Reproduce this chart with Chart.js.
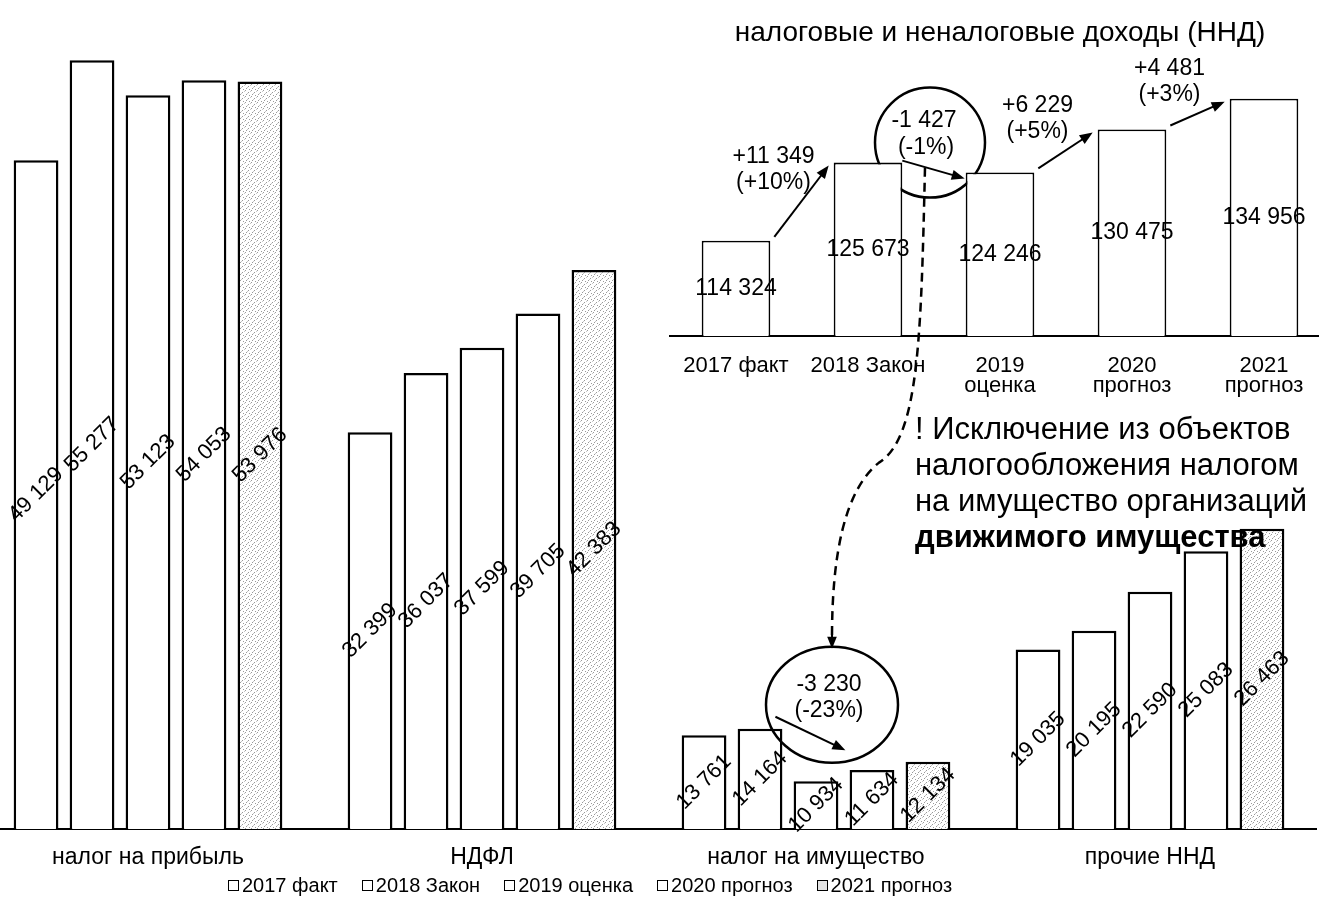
<!DOCTYPE html>
<html>
<head>
<meta charset="utf-8">
<script src="https://cdn.jsdelivr.net/npm/chart.js@4.4.1/dist/chart.umd.min.js"></script>
<style>
  html, body { margin:0; padding:0; background:#fff; width:1319px; height:912px; overflow:hidden; position:relative; }
  #main { position:absolute; left:-19px; top:0; }
  #inset { position:absolute; left:0; top:0; }
  #note { position:absolute; left:915px; top:411px; font-family:'Liberation Sans', Arial, sans-serif; font-size:31px; line-height:36px; color:#000; white-space:nowrap; }
  #legend { position:absolute; left:228px; top:874px; display:flex; gap:24px; font-family:'Liberation Sans', Arial, sans-serif; font-size:20px; color:#000; white-space:nowrap; }
  #legend span.item { display:flex; align-items:center; }
  #legend span.box { display:inline-block; width:9px; height:9px; border:1px solid #000; margin-right:3px; background:#fff; }
</style>
</head>
<body>
<canvas id="main" width="1336" height="880"></canvas>
<canvas id="inset" width="1330" height="912"></canvas>
<div id="note">! Исключение из объектов<br>налогообложения налогом<br>на имущество организаций<br><b>движимого имущества</b></div>
<div id="legend"></div>
<script>
// ---------- DATA ----------
const categories = ['налог на прибыль', 'НДФЛ', 'налог на имущество', 'прочие ННД'];
const seriesNames = ['2017 факт', '2018 Закон', '2019 оценка', '2020 прогноз', '2021 прогноз'];
const values2017 = [49129, 32399, 13761, 19035];
const values2018 = [55277, 36037, 14164, 20195];
const values2019 = [53123, 37599, 10934, 22590];
const values2020 = [54053, 39705, 11634, 25083];
const values2021 = [53976, 42383, 12134, 26463];
const insetTitle = 'налоговые и неналоговые доходы (ННД)';
const insetLabels = ['2017 факт', '2018 Закон', ['2019', 'оценка'], ['2020', 'прогноз'], ['2021', 'прогноз']];
const insetValues = [114324, 125673, 124246, 130475, 134956];
// ---------------------------

const FONT = "'Liberation Sans', Arial, sans-serif";
const MAIN_LEFT = -19; // css offset of main canvas
const seriesValues = [values2017, values2018, values2019, values2020, values2021];

function fmt(v) { return String(Math.abs(v)).replace(/\B(?=(\d{3})+(?!\d))/g, ' '); }
function fmtSigned(v) { return (v >= 0 ? '+' : '-') + fmt(v); }
function pctSigned(d, base) { const p = Math.round(d / base * 100); return '(' + (p >= 0 ? '+' : '') + p + '%)'; }

function makePattern() {
  const c = document.createElement('canvas');
  c.width = 6; c.height = 6;
  const g = c.getContext('2d');
  g.fillStyle = '#ffffff'; g.fillRect(0, 0, 6, 6);
  g.fillStyle = '#9a9a9a';
  g.fillRect(0, 0, 1, 1); g.fillRect(3, 2, 1, 1); g.fillRect(1, 4, 1, 1); g.fillRect(4, 5, 1, 1);
  g.fillStyle = '#c8c8c8';
  g.fillRect(5, 1, 1, 1); g.fillRect(2, 3, 1, 1);
  return document.getElementById('main').getContext('2d').createPattern(c, 'repeat');
}
const stipple = makePattern();

function arrow(ctx, x1, y1, x2, y2, head, lw) {
  const a = Math.atan2(y2 - y1, x2 - x1);
  ctx.save();
  ctx.strokeStyle = '#000'; ctx.fillStyle = '#000'; ctx.lineWidth = lw; ctx.setLineDash([]);
  ctx.beginPath();
  ctx.moveTo(x1, y1);
  ctx.lineTo(x2 - Math.cos(a) * head * 0.8, y2 - Math.sin(a) * head * 0.8);
  ctx.stroke();
  ctx.beginPath();
  ctx.moveTo(x2, y2);
  ctx.lineTo(x2 - head * Math.cos(a - 0.38), y2 - head * Math.sin(a - 0.38));
  ctx.lineTo(x2 - head * Math.cos(a + 0.38), y2 - head * Math.sin(a + 0.38));
  ctx.closePath(); ctx.fill();
  ctx.restore();
}

const legendEl = document.getElementById('legend');
seriesNames.forEach((n, i) => {
  const it = document.createElement('span'); it.className = 'item';
  const b = document.createElement('span'); b.className = 'box';
  if (i === 4) b.style.background = '#e4e4e4';
  it.appendChild(b);
  it.appendChild(document.createTextNode(n));
  legendEl.appendChild(it);
});

// ---------- main chart ----------
const PROP = 2;
let propCircle = null;

const mainPlugin = {
  id: 'mainAnn',
  afterDatasetsDraw(chart) {
    const ctx = chart.ctx;
    const bottom = chart.chartArea.bottom;
    const b2 = chart.getDatasetMeta(1).data[PROP];
    const b3 = chart.getDatasetMeta(2).data[PROP];
    const cx = b3.x + 16, cy = b2.y - 24, rx = 66, ry = 58;
    propCircle = { x: cx + MAIN_LEFT, y: cy, rx: rx, ry: ry };
    ctx.save();
    ctx.strokeStyle = '#000'; ctx.lineWidth = 2.5;
    ctx.beginPath(); ctx.ellipse(cx, cy, rx, ry, 0, 0, Math.PI * 2); ctx.stroke();
    const d = values2019[PROP] - values2018[PROP];
    ctx.fillStyle = '#000'; ctx.font = '23px ' + FONT; ctx.textAlign = 'center'; ctx.textBaseline = 'middle';
    ctx.fillText(fmtSigned(d), cx - 3, cy - 20);
    ctx.fillText(pctSigned(d, values2018[PROP]), cx - 3, cy + 6);
    ctx.restore();
    arrow(ctx, b2.x + b2.width / 2 - 7, b2.y - 12, b3.x + b3.width / 2 + 7, b3.y - 31, 14, 2);

    ctx.save();
    ctx.fillStyle = '#000'; ctx.font = '22px ' + FONT; ctx.textAlign = 'center'; ctx.textBaseline = 'middle';
    chart.data.datasets.forEach((ds, di) => {
      chart.getDatasetMeta(di).data.forEach((el, i) => {
        const yc = (el.y + bottom) / 2;
        ctx.save();
        ctx.translate(el.x, yc);
        ctx.rotate(-Math.PI / 4);
        ctx.fillText(fmt(ds.data[i]), 0, 0);
        ctx.restore();
      });
    });
    ctx.restore();
  }
};

const mainChart = new Chart(document.getElementById('main'), {
  type: 'bar',
  data: {
    labels: categories,
    datasets: seriesNames.map((n, i) => ({
      label: n,
      data: seriesValues[i],
      backgroundColor: i === 4 ? stipple : '#ffffff',
      borderColor: '#000',
      borderWidth: 2.5,
      borderSkipped: 'bottom'
    }))
  },
  options: {
    responsive: false, animation: false, events: [],
    devicePixelRatio: 1,
    layout: { padding: { top: 16, left: 0, right: 0, bottom: 0 } },
    datasets: { bar: { categoryPercentage: 0.838, barPercentage: 0.80 } },
    plugins: { legend: { display: false }, tooltip: { enabled: false }, title: { display: false } },
    scales: {
      x: {
        grid: { display: false, drawTicks: false },
        border: { display: true, color: '#000', width: 2 },
        ticks: { color: '#000', font: { family: FONT, size: 23 }, padding: 15, maxRotation: 0 },
        afterFit(s) { s.height = 51; }
      },
      y: { display: false, min: 8000, max: 58000 }
    }
  },
  plugins: [mainPlugin]
});

// ---------- inset chart ----------
let negCircle = null;
const insetPlugin = {
  id: 'insetAnn',
  beforeDatasetsDraw(chart) {
    const ctx = chart.ctx;
    const bars = chart.getDatasetMeta(0).data;
    for (let i = 0; i < bars.length - 1; i++) {
      const d = insetValues[i + 1] - insetValues[i];
      if (d < 0) {
        const a = bars[i], b = bars[i + 1];
        const gapMid = ((a.x + a.width / 2) + (b.x - b.width / 2)) / 2;
        const cx = gapMid - 4, cy = Math.min(a.y, b.y) - 20, r = 55;
        negCircle = { x: cx, y: cy, r: r, i: i };
        ctx.save(); ctx.strokeStyle = '#000'; ctx.lineWidth = 2.5;
        ctx.beginPath(); ctx.arc(cx, cy, r, 0, Math.PI * 2); ctx.stroke(); ctx.restore();
      }
    }
  },
  afterDatasetsDraw(chart) {
    const ctx = chart.ctx;
    const bottom = chart.chartArea.bottom;
    const bars = chart.getDatasetMeta(0).data;
    ctx.save();
    ctx.fillStyle = '#000'; ctx.font = '23px ' + FONT; ctx.textAlign = 'center'; ctx.textBaseline = 'middle';
    bars.forEach((el, i) => ctx.fillText(fmt(insetValues[i]), el.x, (el.y + bottom) / 2));
    ctx.restore();

    for (let i = 0; i < bars.length - 1; i++) {
      const a = bars[i], b = bars[i + 1];
      const d = insetValues[i + 1] - insetValues[i];
      const aR = a.x + a.width / 2, bL = b.x - b.width / 2;
      ctx.save();
      ctx.fillStyle = '#000'; ctx.font = '23px ' + FONT; ctx.textAlign = 'center'; ctx.textBaseline = 'middle';
      if (d >= 0) {
        const x1 = aR + 4, y1 = a.y - 4, x2 = bL - 5, y2 = b.y + 3;
        arrow(ctx, x1, y1, x2, y2, 14, 2);
        const mx = (x1 + x2) / 2, my = (y1 + y2) / 2;
        ctx.fillText(fmtSigned(d), mx - 28, my - 45);
        ctx.fillText(pctSigned(d, insetValues[i]), mx - 28, my - 19);
      } else {
        const c = negCircle;
        ctx.fillText(fmtSigned(d), c.x - 6, c.y - 22);
        ctx.fillText(pctSigned(d, insetValues[i]), c.x - 4, c.y + 5);
        arrow(ctx, aR, a.y - 2, bL - 1, b.y + 6, 14, 2);
      }
      ctx.restore();
    }

    if (negCircle && propCircle) {
      const sx = negCircle.x - 5, sy = negCircle.y + 25;
      const ex = propCircle.x, ey = propCircle.y - propCircle.ry;
      const mx = sx - 46, my = sy + 295;
      ctx.save();
      ctx.strokeStyle = '#000'; ctx.lineWidth = 2.5; ctx.setLineDash([9, 6]);
      ctx.beginPath();
      ctx.moveTo(sx, sy);
      ctx.bezierCurveTo(sx - 4, sy + 170, sx - 6, sy + 270, mx, my);
      ctx.bezierCurveTo(ex + 12, my + 28, ex, ey - 90, ex, ey - 10);
      ctx.stroke();
      ctx.restore();
      arrow(ctx, ex, ey - 16, ex, ey + 2, 13, 2);
    }
  }
};

new Chart(document.getElementById('inset'), {
  type: 'bar',
  data: {
    labels: insetLabels,
    datasets: [{
      label: insetTitle,
      data: insetValues,
      backgroundColor: '#ffffff',
      borderColor: '#000',
      borderWidth: 1.8,
      borderSkipped: 'bottom',
      categoryPercentage: 1.0,
      barPercentage: 0.52
    }]
  },
  options: {
    responsive: false, animation: false, events: [],
    devicePixelRatio: 1,
    layout: { padding: { left: 670, right: 0, top: 0, bottom: 512 } },
    plugins: {
      legend: { display: false }, tooltip: { enabled: false },
      title: { display: true, text: insetTitle, color: '#000', font: { family: FONT, size: 28, weight: 'normal', lineHeight: 1.1 }, padding: { top: 18, bottom: 11 } }
    },
    scales: {
      x: {
        grid: { display: false, drawTicks: false },
        border: { display: true, color: '#000', width: 2 },
        ticks: { color: '#000', font: { family: FONT, size: 22, lineHeight: 0.95 }, padding: 19, maxRotation: 0, autoSkip: false },
        afterFit(s) { s.height = 64; }
      },
      y: { display: false, min: 100500, max: 140600 }
    }
  },
  plugins: [insetPlugin]
});
</script>
</body>
</html>
